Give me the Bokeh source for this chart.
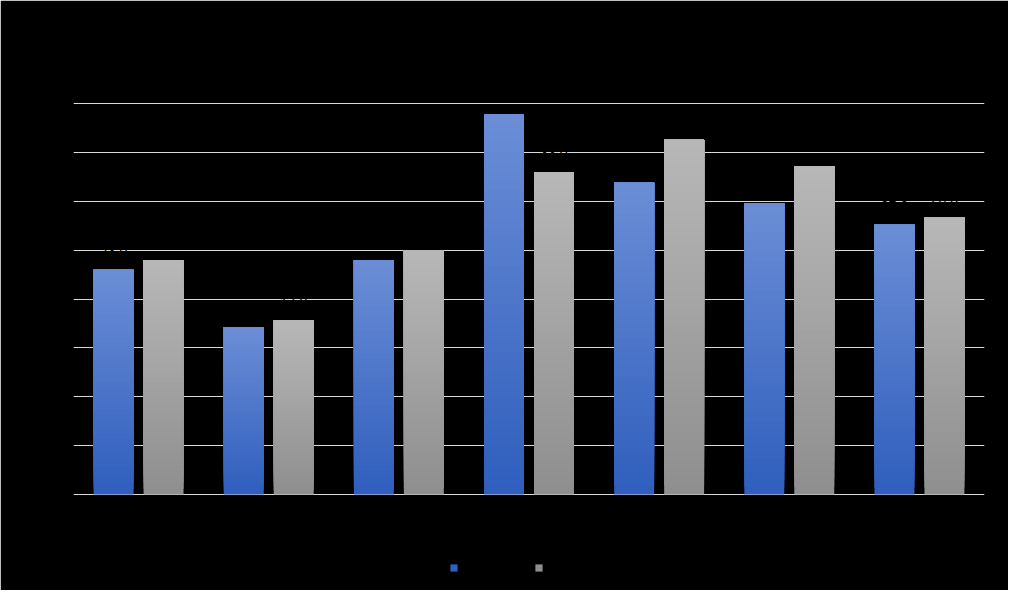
from bokeh.plotting import figure
from bokeh.models import Legend, LegendItem, FixedTicker, Range1d, ColumnDataSource, LabelSet
from bokeh.embed import file_html
from bokeh.resources import INLINE
from bokeh.core.properties import value

categories = ["Category 1", "Category 2", "Category 3", "Category 4", "Category 5", "Category 6", "Category 7"]
series_names = ["Series 1", "Series 2"]
series1 = [23.0, 17.1, 24.0, 38.9, 31.9, 29.8, 27.6]
series2 = [24.0, 17.8, 25.0, 33.0, 36.3, 33.6, 28.3]
y_ticks = [0, 5, 10, 15, 20, 25, 30, 35, 40]

def lerp(c1, c2, t):
    return "#%02x%02x%02x" % tuple(int(round(a + (b - a) * t)) for a, b in zip(c1, c2))

blue_top, blue_bot = (0x6b, 0x8e, 0xd6), (0x2f, 0x5e, 0xbd)
gray_top, gray_bot = (0xb8, 0xb8, 0xb8), (0x8e, 0x8e, 0x8e)

# frame extends above the top gridline and below the zero line so that
# data labels and the legend sit inside it
px_per_unit = (494 - 103) / 40
frame_top, frame_bottom = 60, 585
y_end = 40 + (103 - frame_top) / px_per_unit
y_start = -(frame_bottom - 494) / px_per_unit

p = figure(width=1008, height=590, output_backend="svg", toolbar_location=None,
           x_range=Range1d(0, len(categories)), y_range=Range1d(y_start, y_end),
           min_border_left=73, min_border_right=24, min_border_top=frame_top,
           min_border_bottom=590 - frame_bottom,
           background_fill_color="black", border_fill_color="black",
           title="Chart Title")
p.outline_line_color = "black"
p.outline_line_width = 3
p.title.text_color = "black"
p.title.align = "center"
p.title.text_font_size = "18px"
p.title.text_font = "Liberation Sans"

N = 40
xs = [i + 0.5 for i in range(len(categories))]
offset = 0.192
bw = 0.307
renderers = []
for vals, sgn, ctop, cbot in [(series1, -1, blue_top, blue_bot), (series2, 1, gray_top, gray_bot)]:
    l, r, b, t, c = [], [], [], [], []
    for k in range(N):
        for x, v in zip(xs, vals):
            l.append(x + sgn * offset - bw / 2)
            r.append(x + sgn * offset + bw / 2)
            b.append(v * k / N)
            t.append(v)
            c.append(lerp(cbot, ctop, (k + 0.5) / N))
    rr = p.quad(left=l, right=r, bottom=b, top=t, fill_color=c, line_color=None)
    renderers.append(rr)
    src = ColumnDataSource(dict(x=[x + sgn * offset for x in xs], y=vals, txt=["%.1f" % v for v in vals]))
    p.add_layout(LabelSet(x="x", y="y", text="txt", source=src, text_align="center",
                          text_baseline="middle", y_offset=19, text_color="black",
                          text_font_size="14px", text_font=value("Liberation Sans")))

# category labels under the zero line
cat_src = ColumnDataSource(dict(x=xs, y=[0] * len(xs), txt=categories))
p.add_layout(LabelSet(x="x", y="y", text="txt", source=cat_src, text_align="center",
                      text_baseline="middle", y_offset=-18, text_color="black",
                      text_font_size="12px", text_font=value("Liberation Sans")))

p.xaxis.visible = False
p.yaxis.ticker = FixedTicker(ticks=y_ticks)
p.yaxis.major_tick_line_color = None
p.yaxis.minor_tick_line_color = None
p.yaxis.major_label_text_color = "black"
p.yaxis.major_label_text_font = "Liberation Sans"
p.yaxis.major_label_text_font_size = "12px"
p.yaxis.axis_line_color = None
p.xgrid.grid_line_color = None
p.ygrid.grid_line_color = "#d9d9d9"
p.ygrid.grid_line_width = 1

legend = Legend(items=[LegendItem(label=series_names[0], renderers=[renderers[0]]),
                       LegendItem(label=series_names[1], renderers=[renderers[1]])],
                orientation="horizontal", location=(376, 11),
                background_fill_alpha=0, border_line_color=None,
                label_text_color="black", label_text_font_size="12px",
                label_text_font="Liberation Sans",
                glyph_width=9, glyph_height=9, spacing=27)
p.add_layout(legend, "center")

open("out.html", "w").write(file_html(p, INLINE))
